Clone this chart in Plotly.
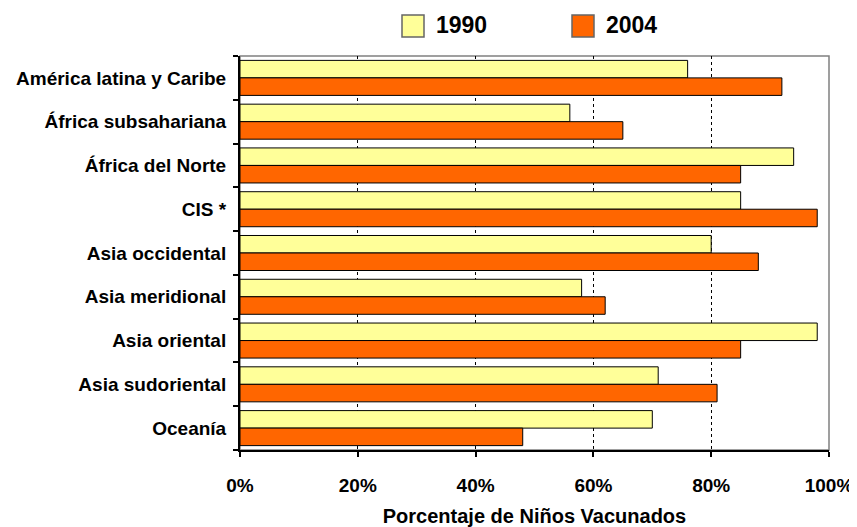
import plotly.graph_objects as go

categories = ["América latina y Caribe", "África subsahariana", "África del Norte", "CIS *",
              "Asia occidental", "Asia meridional", "Asia oriental", "Asia sudoriental", "Oceanía"]
values_1990 = [76, 56, 94, 85, 80, 58, 98, 71, 70]
values_2004 = [92, 65, 85, 98, 88, 62, 85, 81, 48]
series_names = ["1990", "2004"]
series_colors = ["#FFFF99", "#FF6600"]
x_tickvals = [0, 20, 40, 60, 80, 100]
x_ticktext = ["0%", "20%", "40%", "60%", "80%", "100%"]
x_title = "Porcentaje de Niños Vacunados"

FONT = "Liberation Sans, Arial, sans-serif"
OFF = 8  # page body margin
W, H = 857 - OFF, 527 - OFF
L, R, T, B = 240 - OFF, 829 - OFF, 56 - OFF, 450 - OFF
PW, PH = R - L, B - T

def px_x(x):
    return (x - OFF - L) / PW

def px_y(y):
    return (B - (y - OFF)) / PH

fig = go.Figure()
for name, vals, col in zip(series_names, [values_1990, values_2004], series_colors):
    fig.add_trace(go.Bar(
        y=categories, x=vals, name=name, orientation="h",
        marker=dict(color=col, line=dict(color="#000000", width=1)),
        showlegend=False,
    ))

# manual legend (large square swatches)
for i, (name, col) in enumerate(zip(series_names, series_colors)):
    dx = i * 170
    fig.add_shape(type="rect", xref="paper", yref="paper",
                  x0=px_x(402 + dx), x1=px_x(424 + dx),
                  y0=px_y(37), y1=px_y(15),
                  line=dict(color="#666666", width=1.5), fillcolor=col)
    fig.add_annotation(xref="paper", yref="paper",
                       x=px_x(434 + dx), y=px_y(25),
                       text="<b>%s</b>" % name, showarrow=False,
                       xanchor="left", yanchor="middle",
                       font=dict(family=FONT, size=23, color="#000000"))

# plot-area border (gray top/right)
fig.add_shape(type="rect", xref="paper", yref="paper", x0=0, x1=1, y0=0, y1=1,
              line=dict(color="#808080", width=1.5), layer="below")

fig.update_layout(
    width=W, height=H,
    margin=dict(l=L, r=W - R, t=T, b=H - B, autoexpand=False),
    paper_bgcolor="white", plot_bgcolor="white",
    barmode="group", bargap=0.2, bargroupgap=0,
    font=dict(family=FONT, size=19, color="#000000"),
    xaxis=dict(
        range=[0, 100], tickvals=x_tickvals, ticktext=["<b>%s</b>" % t for t in x_ticktext],
        showgrid=True, gridcolor="#000000", gridwidth=1, griddash="dot",
        showline=True, linecolor="#000000", linewidth=2,
        ticks="outside", ticklen=5, tickwidth=2, tickcolor="#000000",
        ticklabelstandoff=12, zeroline=False, automargin=False,
        title=dict(text="<b>%s</b>" % x_title, standoff=15, font=dict(size=20)),
        tickfont=dict(size=19),
    ),
    yaxis=dict(
        autorange="reversed", type="category",
        tickvals=categories, ticktext=["<b>%s</b>" % c for c in categories],
        showline=True, linecolor="#000000", linewidth=2,
        ticks="outside", tickson="boundaries", ticklen=5, tickwidth=2, tickcolor="#000000",
        showgrid=False, tickfont=dict(size=19), ticklabelstandoff=8, automargin=False,
    ),
)

fig.write_html("out.html")
